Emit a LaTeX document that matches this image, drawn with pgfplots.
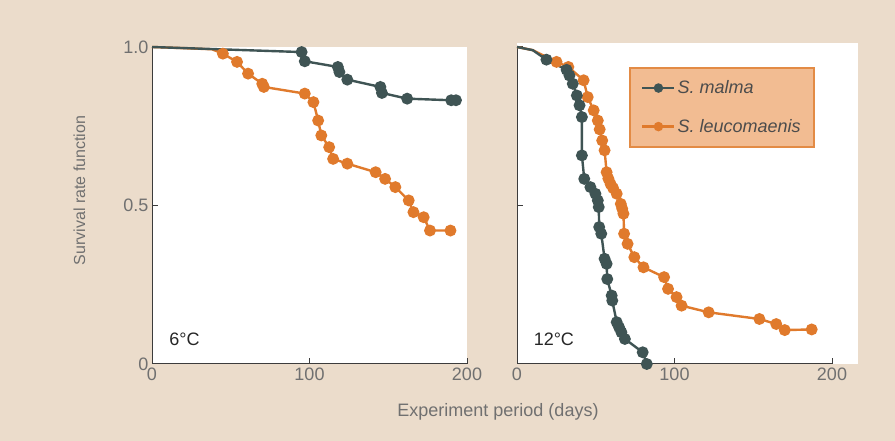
\documentclass[border=0pt]{standalone}
\usepackage{pgfplots}
\pgfplotsset{compat=1.18}
\usepackage{fontspec}
\setmainfont{Liberation Sans}

\definecolor{bg}{HTML}{EBDCCB}
\definecolor{malma}{HTML}{3F5454}
\definecolor{leuco}{HTML}{E07A2C}
\definecolor{legfill}{HTML}{F2BC92}
\definecolor{legdraw}{HTML}{E38B45}
\definecolor{axgray}{HTML}{3C3C3C}
\definecolor{labgray}{HTML}{707070}

\pgfplotsset{
  panel/.style={
    scale only axis, width=315pt, height=317pt,
    xmin=0, xmax=200, ymin=0, ymax=1,
    axis x line*=bottom, axis y line*=left,
    axis line style={axgray, line width=1pt},
    tick style={axgray, line width=1pt},
    tick align=inside, major tick length=6pt,
    xtick={0,100,200}, ytick={0,0.5,1},
    /pgf/number format/assume math mode=true,
    ticklabel style={font=\fontsize{18}{20}\selectfont, text=labgray},
    axis background/.style={fill=white},
    clip=false,
  },
  malmaplot/.style={color=malma, line width=2.4pt, mark=*, mark size=4.7pt, mark options={solid}},
  leucoplot/.style={color=leuco, line width=2.4pt, mark=*, mark size=4.7pt, mark options={solid}},
}

\begin{document}
\begin{tikzpicture}
\fill[bg] (0,0) rectangle (895pt,441pt);
\fill[white] (517pt,77pt) rectangle (858pt,398pt);

% 6 C
\begin{axis}[panel, at={(152pt,77pt)}, anchor=south west,
  yticklabels={0,0.5,1.0}]
\addplot[leucoplot, mark indices={3,...,40}] coordinates {
 (0,1.0) (38,0.993) (45,0.979) (54,0.953) (61,0.916) (70,0.884) (71,0.874)
 (97,0.853) (102.5,0.826) (105.5,0.768) (107.5,0.721) (112.5,0.684)
 (115,0.647) (124,0.632) (142,0.605) (148,0.584) (154.5,0.558)
 (163,0.516) (166,0.479) (172.5,0.463) (176.5,0.421) (189.5,0.421)
};
\addplot[malmaplot, mark indices={2,...,40}] coordinates {
 (0,1.0) (95,0.984) (97,0.955) (118,0.937) (119,0.921) (124,0.897)
 (145,0.874) (146,0.855) (162,0.837) (190,0.832) (193,0.832)
};
\node[anchor=base west, font=\fontsize{18}{20}\selectfont, text=black!85]
  at (rel axis cs:0.044,0.057) {6°C};
\end{axis}

% 12 C
\begin{axis}[panel, at={(517pt,77pt)}, anchor=south west,
  yticklabels={,,},
  legend image code/.code={\draw[mark repeat=2,mark phase=2,#1]
    plot coordinates {(0pt,0pt) (16pt,0pt) (32pt,0pt)};},
  legend style={at={(rel axis cs:0.357,0.937)}, anchor=north west,
    fill=legfill, draw=legdraw, line width=1.6pt,
    font=\fontsize{18}{20}\selectfont\itshape, text=black!70,
    inner xsep=11pt, inner ysep=11pt, row sep=20pt},
  legend cell align=left]
\addlegendimage{color=malma, line width=2.4pt, mark=*, mark size=3.5pt}
\addlegendentry{S. malma}
\addlegendimage{color=leuco, line width=2.4pt, mark=*, mark size=3.5pt}
\addlegendentry{S. leucomaenis}
\addplot[leucoplot, forget plot, mark indices={3,...,60}] coordinates {
 (0,1.0) (10,0.99) (25.1,0.953) (32.6,0.937) (42.3,0.895) (44.9,0.842)
 (48.7,0.8) (51.3,0.768) (52.5,0.74) (54.1,0.705) (55.6,0.674) (56.9,0.605)
 (58,0.585) (59.4,0.568) (61,0.555) (63.3,0.537) (65.9,0.505) (66.8,0.49)
 (67.6,0.474) (68,0.411) (70.2,0.379) (74.5,0.337) (80.3,0.305)
 (93.4,0.274) (95.9,0.237) (101.3,0.211) (104.5,0.184) (121.7,0.163)
 (153.9,0.142) (164.6,0.126) (170,0.107) (187.1,0.109)
};
\addplot[malmaplot, forget plot, mark indices={3,...,60}] coordinates {
 (0,1.0) (10,0.99) (18.7,0.96) (31.5,0.928) (33.3,0.91) (35.4,0.884)
 (38,0.847) (39.7,0.816) (41.2,0.779) (41.2,0.658) (42.7,0.584)
 (46.6,0.558) (49.8,0.537) (51.3,0.516) (51.9,0.495) (52.2,0.432)
 (53.5,0.411) (55.6,0.332) (56.9,0.316) (57.3,0.268) (60.1,0.216)
 (60.5,0.2) (63.3,0.132) (64.8,0.116) (66.3,0.1) (68.5,0.079)
 (79.8,0.037) (82.4,0.0)
};
\node[anchor=base west, font=\fontsize{18}{20}\selectfont, text=black!85]
  at (rel axis cs:0.042,0.057) {12°C};
\end{axis}

\node[rotate=90, font=\fontsize{16}{18}\selectfont, text=labgray]
  at (79.5pt,250.5pt) {Survival rate function};
\node[anchor=base, font=\fontsize{18}{20}\selectfont, text=labgray]
  at (498pt,24.3pt) {Experiment period (days)};
\end{tikzpicture}
\end{document}
